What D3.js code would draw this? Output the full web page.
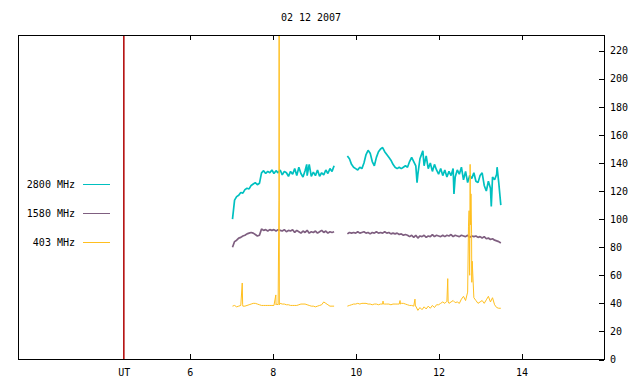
<!DOCTYPE html>
<html><head><meta charset="utf-8">
<script src="https://cdn.jsdelivr.net/npm/d3@7"></script>
<style>
body{margin:0;background:#fff}
svg{display:block}
text{font-family:"DejaVu Sans Mono",monospace;font-size:10px;fill:#000}
</style>
</head><body>
<svg id="c" width="640" height="384"></svg>
<script>
const title = "02 12 2007";
const seriesNames = ["2800 MHz", "1580 MHz", "403 MHz"];
const seriesColors = ["#00c0c0", "#7f5f80", "#ffbf1f"];
const utColor = "#b00000";
const xTicks = [6, 8, 10, 12, 14];
const utMark = 4.41;
const utLabel = "UT";
const yTicks = [0, 20, 40, 60, 80, 100, 120, 140, 160, 180, 200, 220];
const segStarts = [7.03, 9.80];
const stepH = 0.05;

// 2800 MHz
const f2800a = [100, 113.5, 116, 117, 119, 118.5, 121, 122, 121.5, 124, 125, 126, 124.5, 125.5, 133, 134.5, 132.5, 134, 133, 135,
  132.5, 134.5, 133, 135, 131.5, 134, 133, 130.5, 134, 132, 136, 131, 137, 132.5, 130, 134.5, 131, 139, 130.5, 133.5,
  131, 135, 130.5, 133, 131.5, 135, 132.5, 136, 134, 138];
const f2800b = [145, 143, 139, 137, 136, 135, 137, 136, 140, 146, 149, 147, 141, 138, 144, 148, 150, 151, 148, 146,
  144, 142, 139, 137, 136, 137, 136, 137, 138, 137, 141, 144, 141, 138, 132, 143, 147, 138, 145, 136,
  140, 134, 139, 135, 132, 136, 131, 135, 130, 134, 131, 136, 130, 135, 132, 137, 128, 134, 126, 131,
  129, 133, 127, 126, 131, 133, 124, 120, 127, 122, 130, 128, 132, 126, 110];
const spikes2800 = [[8.82, 139], [11.48, 126], [11.62, 148.6], [12.37, 118], [13.27, 109], [13.41, 137]];

// 1580 MHz
const f1580a = [80, 84, 85, 86.5, 87, 88, 88.5, 89.5, 90, 90.5, 90, 89, 88, 88.5, 93, 92, 92.5, 91.5, 92.5, 92,
  92.5, 91.5, 92.5, 92, 91.5, 92.5, 91, 92, 91.5, 92.5, 90.5, 92, 91, 90, 91.5, 90.5, 92, 90, 91, 90.5,
  91.5, 90, 91, 92, 90.5, 91.5, 90, 91, 90.5, 91];
const f1580b = [89.5, 90.5, 90, 90.5, 90, 91, 90, 90.5, 91, 90, 90.5, 89.5, 90.5, 90, 91, 90, 90.5, 90, 91, 90,
  90.5, 89.5, 90, 89.5, 90, 89, 89.5, 88.5, 89, 88.5, 87.5, 88.5, 87, 88.5, 86.5, 88, 87.5, 88.5, 87, 88,
  87.5, 89, 87.5, 88.5, 88, 87.5, 88.5, 87.5, 88.5, 88, 89, 87.5, 88.5, 88, 87.5, 88.5, 88, 87.5, 88.5, 87,
  88, 87.5, 88, 87, 87.5, 86.5, 87.5, 86, 86.5, 85.5, 86, 85, 84.5, 84, 83];
const spikes1580 = [];

// 403 MHz
const f403a = [38, 38.5, 37.5, 38, 38.5, 38, 38, 38.5, 39, 39.5, 40, 40, 39.5, 39, 38.5, 38.5, 38.5, 38.5, 38.5, 38.5,
  38.5, 39, 39, 40, 39.5, 39.5, 39, 39, 38.5, 38.5, 38.5, 38.5, 39, 39.5, 39.5, 39.5, 39, 38.5, 38, 38,
  37.5, 38, 38.5, 39, 41, 40, 39, 38, 38, 38];
const f403b = [38, 38.5, 39, 39.5, 39.5, 40, 39.5, 40, 40, 40, 39.5, 39.5, 39, 39.5, 39.5, 39, 39.5, 39.5, 39.5, 39.5,
  39.5, 39, 39.5, 39.5, 39.5, 39.5, 40, 40, 39.5, 39, 38.5, 38.5, 38, 38, 35, 37, 35.5, 37.5, 36, 38,
  36.5, 38.5, 37, 39, 39, 40, 41, 40, 41.5, 40, 41, 42, 40.5, 41, 40, 43, 45, 42, 48, 60,
  55, 44, 42, 40, 41, 42, 40, 42.5, 45, 41, 44, 39, 37, 36.5, 36.5];
const spikes403 = [[7.265, 54.5], [7.275, 39], [8.075, 46], [8.085, 39.5], [8.15, 113], [8.155, 260], [8.16, 39],
  [10.66, 41.6], [10.67, 39.5], [11.07, 42], [11.08, 39.5], [11.43, 43], [11.44, 38], [12.22, 57.6], [12.23, 41],
  [12.72, 95], [12.735, 106], [12.745, 62], [12.76, 139], [12.77, 96], [12.78, 118], [12.795, 90], [12.81, 70]];

const plot = {left: 18.5, right: 604.5, top: 35.5, bottom: 359.5};
const svg = d3.select("#c");
const xs = d3.scaleLinear().domain([1.87, 16.0]).range([plot.left, plot.right]);
const ys = d3.scaleLinear().domain([0, 230.8]).range([plot.bottom, plot.top]);
const strokeW = [1.7, 1.7, 1.0];

svg.append("defs").append("clipPath").attr("id", "clip")
  .append("rect").attr("x", plot.left).attr("y", plot.top)
  .attr("width", plot.right - plot.left).attr("height", plot.bottom - plot.top);

function buildSeg(start, vals, spikes) {
  const pts = vals.map((v, i) => [start + i * stepH, v]);
  const end = start + (vals.length - 1) * stepH;
  spikes.forEach(s => { if (s[0] >= start && s[0] <= end) pts.push(s); });
  pts.sort((a, b) => a[0] - b[0]);
  return pts;
}
const series = [
  {segs: [buildSeg(segStarts[0], f2800a, spikes2800), buildSeg(segStarts[1], f2800b, spikes2800)]},
  {segs: [buildSeg(segStarts[0], f1580a, spikes1580), buildSeg(segStarts[1], f1580b, spikes1580)]},
  {segs: [buildSeg(segStarts[0], f403a, spikes403), buildSeg(segStarts[1], f403b, spikes403)]}
];

// title
svg.append("text").attr("x", 311).attr("y", 21).attr("text-anchor", "middle").text(title);

// data
const line = d3.line().x(d => xs(d[0])).y(d => ys(d[1]));
const g = svg.append("g").attr("clip-path", "url(#clip)");
series.forEach((s, i) => {
  s.segs.forEach(seg => {
    g.append("path").attr("d", line(seg)).attr("fill", "none")
      .attr("stroke", seriesColors[i]).attr("stroke-width", strokeW[i]).attr("stroke-linejoin", "bevel");
  });
});

// frame
svg.append("rect").attr("x", plot.left).attr("y", plot.top)
  .attr("width", plot.right - plot.left).attr("height", plot.bottom - plot.top)
  .attr("fill", "none").attr("stroke", "#000").attr("shape-rendering", "crispEdges");

// axes
const xtv = [utMark].concat(xTicks);
const xAxis = d3.axisBottom(xs).tickValues(xtv).tickSizeInner(-5).tickSizeOuter(0).tickPadding(10)
  .tickFormat(d => d === utMark ? utLabel : d);
const gx = svg.append("g").attr("transform", `translate(0,${plot.bottom - 0.5})`).call(xAxis);
gx.select(".domain").remove();
gx.selectAll(".tick").filter(d => d === utMark).select("line").remove();
const gxt = svg.append("g").attr("transform", `translate(0,${plot.top - 0.5})`)
  .call(d3.axisTop(xs).tickValues(xTicks).tickSizeInner(-5).tickSizeOuter(0).tickFormat(""));
gxt.select(".domain").remove();
const yAxis = d3.axisRight(ys).tickValues(yTicks).tickSizeInner(-5).tickSizeOuter(0).tickPadding(6);
const gy = svg.append("g").attr("transform", `translate(${plot.right - 0.5},0)`).call(yAxis);
gy.select(".domain").remove();
svg.selectAll(".tick text").attr("font-family", "DejaVu Sans Mono").attr("font-size", 10).attr("fill", "#000");
svg.selectAll(".tick line").attr("shape-rendering", "crispEdges");

// UT marker line
const ux = xs(utMark);
svg.append("rect").attr("x", ux - 0.75).attr("y", plot.top + 0.5)
  .attr("width", 1.5).attr("height", plot.bottom - plot.top - 1)
  .attr("fill", utColor);

// legend
const legY = [184, 213, 242];
seriesNames.forEach((n, i) => {
  svg.append("text").attr("x", 75).attr("y", legY[i]).attr("dy", "0.35em").attr("text-anchor", "end").text(n);
  svg.append("rect").attr("x", 83).attr("y", legY[i]).attr("width", 27).attr("height", 1)
    .attr("fill", seriesColors[i]);
});
</script>
</body></html>
